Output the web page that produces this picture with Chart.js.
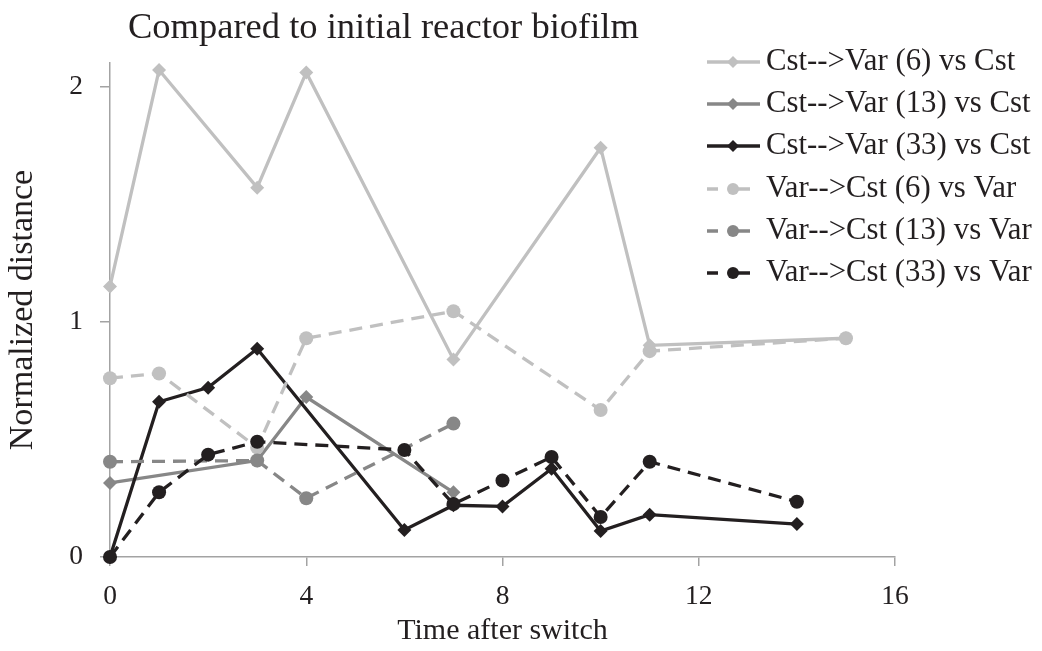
<!DOCTYPE html>
<html>
<head>
<meta charset="utf-8">
<script src="https://cdn.jsdelivr.net/npm/chart.js@4/dist/chart.umd.min.js"></script>
<style>
  body { margin: 0; background: #fff; }
  #wrap { width: 1042px; height: 651px; }
</style>
</head>
<body>
<div id="wrap"><canvas id="distChart" width="1042" height="651"></canvas></div>
<script>
// Data
const chartTitle = 'Compared to initial reactor biofilm';
const xTitle = 'Time after switch';
const yTitle = 'Normalized distance';

const seriesNames = [
    'Cst-->Var (6) vs Cst',
    'Cst-->Var (13) vs Cst',
    'Cst-->Var (33) vs Cst',
    'Var-->Cst (6) vs Var',
    'Var-->Cst (13) vs Var',
    'Var-->Cst (33) vs Var'
];

const timesCV6 = [0, 1, 3, 4, 7, 10, 11, 15];
const valuesCV6 = [1.15, 2.07, 1.57, 2.06, 0.84, 1.74, 0.90, 0.93];

const timesCV13 = [0, 3, 4, 7];
const valuesCV13 = [0.315, 0.41, 0.68, 0.275];

const timesCV33 = [0, 1, 2, 3, 6, 7, 8, 9, 10, 11, 14];
const valuesCV33 = [0, 0.66, 0.72, 0.885, 0.115, 0.22, 0.215, 0.375, 0.11, 0.18, 0.14];

const timesVC6 = [0, 1, 3, 4, 7, 10, 11, 15];
const valuesVC6 = [0.76, 0.78, 0.465, 0.93, 1.045, 0.625, 0.875, 0.93];

const timesVC13 = [0, 3, 4, 7];
const valuesVC13 = [0.405, 0.41, 0.25, 0.567];

const timesVC33 = [0, 1, 2, 3, 6, 7, 8, 9, 10, 11, 14];
const valuesVC33 = [0, 0.275, 0.435, 0.49, 0.455, 0.225, 0.325, 0.425, 0.17, 0.405, 0.235];

const xTicks = [0, 4, 8, 12, 16];
const yTicks = [0, 1, 2];

// Styling
const LIGHT = '#c0c0c0';
const MID = '#878787';
const DARK = '#231f20';
const AXIS = '#a3a3a3';
const FONT = "'Liberation Serif', 'Times New Roman', serif";

function toPoints(xs, ys) {
    return xs.map((x, i) => ({ x: x, y: ys[i] }));
}

function makeSet(idx, xs, ys, color, dashed) {
    return {
        label: seriesNames[idx],
        data: toPoints(xs, ys),
        borderColor: color,
        backgroundColor: color,
        pointBackgroundColor: color,
        pointBorderColor: color,
        borderWidth: 3.3,
        borderDash: dashed ? [13, 8] : [],
        pointStyle: dashed ? 'circle' : 'rectRot',
        pointRadius: 7,
        pointBorderWidth: 0,
        tension: 0,
        clip: false,
        order: 5 - idx
    };
}

// Title + legend drawn on top, legend overlaps the plot like the original
const decorPlugin = {
    id: 'decor',
    afterDraw(chart) {
        const ctx = chart.ctx;
        ctx.save();
        ctx.fillStyle = DARK;
        ctx.font = '36.5px ' + FONT;
        ctx.textAlign = 'left';
        ctx.textBaseline = 'middle';
        ctx.fillText(chartTitle, 128, 28);

        const rowY = [62, 104, 146, 189, 231, 273];
        chart.data.datasets.forEach((ds, i) => {
            const y = rowY[i];
            const dashed = ds.pointStyle === 'circle';
            ctx.strokeStyle = ds.borderColor;
            ctx.fillStyle = ds.borderColor;
            ctx.lineWidth = 3.3;
            ctx.beginPath();
            if (dashed) {
                ctx.moveTo(707, y); ctx.lineTo(718, y);
                ctx.moveTo(728, y); ctx.lineTo(750, y);
            } else {
                ctx.moveTo(707, y); ctx.lineTo(760, y);
            }
            ctx.stroke();
            if (dashed) {
                ctx.beginPath();
                ctx.arc(733, y, 6, 0, Math.PI * 2);
                ctx.fill();
            } else {
                ctx.beginPath();
                ctx.moveTo(733, y - 6); ctx.lineTo(739, y);
                ctx.lineTo(733, y + 6); ctx.lineTo(727, y);
                ctx.closePath();
                ctx.fill();
            }
            ctx.fillStyle = DARK;
            ctx.font = '30.8px ' + FONT;
            ctx.fillText(ds.label, 766, y);
        });
        ctx.restore();
    }
};

const ctx = document.getElementById('distChart').getContext('2d');
const distChart = new Chart(ctx, {
    type: 'line',
    data: {
        datasets: [
            makeSet(0, timesCV6, valuesCV6, LIGHT, false),
            makeSet(1, timesCV13, valuesCV13, MID, false),
            makeSet(2, timesCV33, valuesCV33, DARK, false),
            makeSet(3, timesVC6, valuesVC6, LIGHT, true),
            makeSet(4, timesVC13, valuesVC13, MID, true),
            makeSet(5, timesVC33, valuesVC33, DARK, true)
        ]
    },
    options: {
        responsive: false,
        animation: false,
        devicePixelRatio: 1,
        layout: { padding: { top: 63, right: 147, left: 0, bottom: 0 } },
        plugins: {
            legend: { display: false },
            title: { display: false },
            tooltip: { enabled: false }
        },
        scales: {
            x: {
                type: 'linear',
                min: 0,
                max: 16,
                afterFit: s => { s.height = 94; },
                afterBuildTicks: s => { s.ticks = xTicks.map(v => ({ value: v })); },
                border: { color: AXIS, width: 1.5 },
                grid: { drawOnChartArea: false, drawTicks: true, tickLength: 9, color: AXIS, lineWidth: 1.5 },
                ticks: { color: DARK, font: { family: FONT, size: 27.5 }, padding: 14, maxRotation: 0 },
                title: { display: true, text: xTitle, color: DARK, font: { family: FONT, size: 30 }, padding: { top: 0, bottom: 2 } }
            },
            y: {
                min: 0,
                max: 2.1,
                afterFit: s => { s.width = 110; },
                afterBuildTicks: s => { s.ticks = yTicks.map(v => ({ value: v })); },
                border: { color: AXIS, width: 1.5 },
                grid: { drawOnChartArea: false, drawTicks: true, tickLength: 10, color: AXIS, lineWidth: 1.5 },
                ticks: { color: DARK, font: { family: FONT, size: 27.5 }, padding: 17 },
                title: { display: true, text: yTitle, color: DARK, font: { family: FONT, size: 34 }, padding: { top: 3, bottom: 0 } }
            }
        }
    },
    plugins: [decorPlugin]
});
</script>
</body>
</html>
